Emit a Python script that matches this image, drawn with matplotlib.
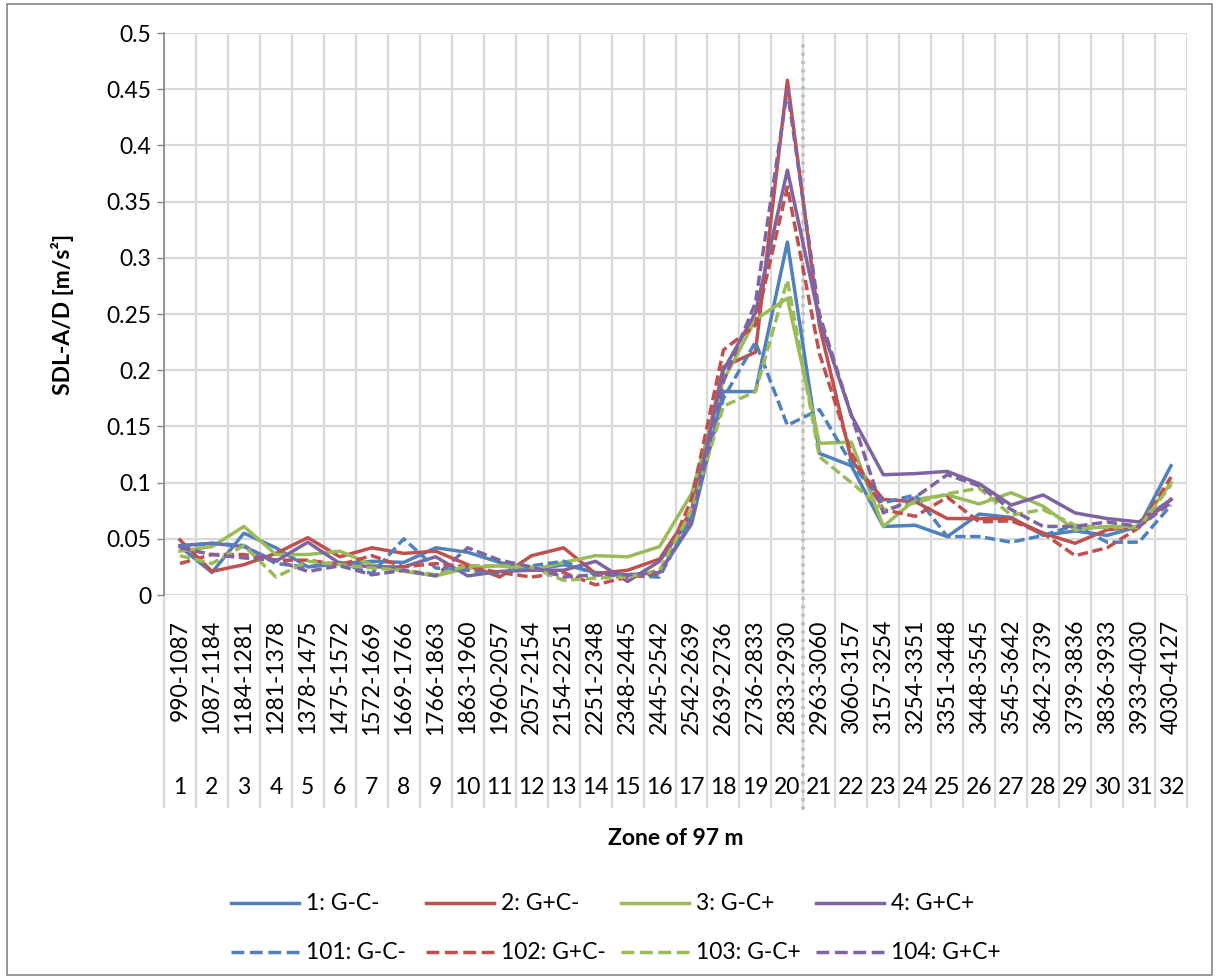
import matplotlib
matplotlib.use("Agg")
import matplotlib.pyplot as plt
from matplotlib.lines import Line2D
from matplotlib.patches import Rectangle

# ---------------- data ----------------
zones = ["990-1087", "1087-1184", "1184-1281", "1281-1378", "1378-1475", "1475-1572",
         "1572-1669", "1669-1766", "1766-1863", "1863-1960", "1960-2057", "2057-2154",
         "2154-2251", "2251-2348", "2348-2445", "2445-2542", "2542-2639", "2639-2736",
         "2736-2833", "2833-2930", "2963-3060", "3060-3157", "3157-3254", "3254-3351",
         "3351-3448", "3448-3545", "3545-3642", "3642-3739", "3739-3836", "3836-3933",
         "3933-4030", "4030-4127"]
zone_numbers = [str(i) for i in range(1, 33)]

s1 = [0.043, 0.020, 0.055, 0.042, 0.025, 0.028, 0.030, 0.029, 0.042, 0.038, 0.029, 0.022,
      0.027, 0.020, 0.018, 0.020, 0.063, 0.181, 0.181, 0.314, 0.126, 0.115, 0.061, 0.062,
      0.052, 0.072, 0.069, 0.053, 0.057, 0.053, 0.061, 0.115]
s2 = [0.049, 0.021, 0.027, 0.037, 0.051, 0.034, 0.042, 0.037, 0.039, 0.027, 0.016, 0.035,
      0.042, 0.019, 0.022, 0.032, 0.075, 0.203, 0.216, 0.458, 0.240, 0.120, 0.085, 0.083,
      0.068, 0.068, 0.068, 0.055, 0.046, 0.058, 0.061, 0.085]
s3 = [0.039, 0.043, 0.061, 0.036, 0.036, 0.039, 0.027, 0.021, 0.017, 0.024, 0.026, 0.022,
      0.029, 0.035, 0.034, 0.043, 0.090, 0.191, 0.245, 0.264, 0.135, 0.136, 0.061, 0.085,
      0.089, 0.081, 0.091, 0.079, 0.058, 0.061, 0.061, 0.100]
s4 = [0.044, 0.046, 0.043, 0.030, 0.047, 0.028, 0.025, 0.025, 0.034, 0.017, 0.021, 0.022,
      0.022, 0.030, 0.012, 0.030, 0.070, 0.200, 0.251, 0.378, 0.245, 0.160, 0.107, 0.108,
      0.110, 0.099, 0.080, 0.089, 0.073, 0.068, 0.065, 0.085]
s101 = [0.043, 0.046, 0.044, 0.028, 0.025, 0.029, 0.019, 0.050, 0.024, 0.022, 0.019, 0.026,
        0.030, 0.018, 0.017, 0.016, 0.070, 0.175, 0.225, 0.151, 0.165, 0.117, 0.082, 0.089,
        0.052, 0.052, 0.047, 0.053, 0.062, 0.047, 0.047, 0.080]
s102 = [0.028, 0.036, 0.036, 0.031, 0.031, 0.027, 0.035, 0.025, 0.028, 0.025, 0.020, 0.016,
        0.020, 0.009, 0.016, 0.019, 0.085, 0.218, 0.240, 0.363, 0.215, 0.126, 0.076, 0.070,
        0.087, 0.065, 0.066, 0.055, 0.035, 0.042, 0.060, 0.105]
s103 = [0.035, 0.028, 0.044, 0.016, 0.030, 0.027, 0.024, 0.022, 0.018, 0.026, 0.026, 0.025,
        0.013, 0.015, 0.016, 0.022, 0.075, 0.168, 0.181, 0.280, 0.123, 0.100, 0.076, 0.082,
        0.090, 0.095, 0.071, 0.076, 0.062, 0.060, 0.060, 0.098]
s104 = [0.042, 0.036, 0.033, 0.031, 0.021, 0.026, 0.018, 0.022, 0.017, 0.042, 0.031, 0.025,
        0.016, 0.018, 0.018, 0.020, 0.065, 0.190, 0.260, 0.449, 0.250, 0.160, 0.073, 0.087,
        0.107, 0.097, 0.076, 0.061, 0.061, 0.065, 0.061, 0.082]

labels = ["1: G-C-", "2: G+C-", "3: G-C+", "4: G+C+",
          "101: G-C-", "102: G+C-", "103: G-C+", "104: G+C+"]
values = [s1, s2, s3, s4, s101, s102, s103, s104]
y_ticks = [0, 0.05, 0.1, 0.15, 0.2, 0.25, 0.3, 0.35, 0.4, 0.45, 0.5]
y_tick_labels = ["0", "0.05", "0.1", "0.15", "0.2", "0.25", "0.3", "0.35", "0.4", "0.45", "0.5"]
divider_position = 20.5

# ---------------- style ----------------
colors = ["#4F81BD", "#C0504D", "#9BBB59", "#8064A2"] * 2
dash = (0, (3.0, 1.3))
styles = ["-"] * 4 + [dash] * 4
FONT = "Lato"
FS = 16.5
GRID = "#D9D9D9"
AXIS = "#868686"
LW = 2.5

plt.rcParams["font.family"] = [FONT, "DejaVu Sans"]

W, H = 1218, 980
fig = plt.figure(figsize=(W / 100, H / 100), dpi=100)
left, right, top, bottom = 164, 1187, 33, 595
ax = fig.add_axes([left / W, (H - bottom) / H, (right - left) / W, (bottom - top) / H])

x = list(range(1, len(zones) + 1))
for vals, c, ls, lab in zip(values, colors, styles, labels):
    ax.plot(x, vals, color=c, lw=LW, linestyle=ls, dash_capstyle="butt",
            solid_joinstyle="round", dash_joinstyle="round", label=lab, zorder=3)

ax.set_xlim(0.5, len(zones) + 0.5)
ax.set_ylim(0, 0.5)
ax.set_yticks(y_ticks)
ax.set_yticklabels(y_tick_labels, fontsize=FS)

# category boundaries as minor ticks (gridlines)
bounds = [i + 0.5 for i in range(0, len(zones) + 1)]
ax.set_xticks(bounds, minor=True)
ax.set_xticks(x)
ax.set_xticklabels(zones, rotation=90, fontsize=FS)
ax.tick_params(axis="x", which="both", length=0, pad=18)
ax.tick_params(axis="y", length=5, width=1, color=AXIS, pad=4, direction="out")

ax.grid(axis="y", color=GRID, lw=1.6, zorder=0)
ax.grid(axis="x", which="minor", color=GRID, lw=1.6, zorder=0)
ax.set_axisbelow(True)

for s in ["top", "right", "bottom"]:
    ax.spines[s].set_visible(False)
ax.spines["left"].set_color(AXIS)
ax.spines["left"].set_linewidth(1.2)
ax.spines["left"].set_zorder(4)

# extend category boundary lines through the label area
ph = bottom - top
ybot = -(808 - bottom) / ph
ax.vlines(bounds, ybot, 0, transform=ax.get_xaxis_transform(), colors=GRID,
          lw=1.6, clip_on=False, zorder=0)

# second level: zone numbers
ynum = -(788 - bottom) / ph
for xi, n in zip(x, zone_numbers):
    ax.text(xi, ynum, n, transform=ax.get_xaxis_transform(), ha="center",
            va="center", fontsize=FS)

# dotted divider
ax.plot([divider_position, divider_position], [ybot, (bottom - 45) / ph],
        transform=ax.get_xaxis_transform(), color="#BFBFBF", lw=3.0,
        linestyle=(0, (0.01, 2.0)), dash_capstyle="round", clip_on=False, zorder=2)

# axis titles
fig.text(62 / W, (H - (top + bottom) / 2) / H, "SDL-A/D [m/s²]", rotation=90,
         ha="center", va="center", fontsize=FS, fontweight="bold")
fig.text(((left + right) / 2) / W, (H - 838) / H, "Zone of 97 m", ha="center",
         va="center", fontsize=FS, fontweight="bold")

# legend (two rows, four columns)
lines = ax.get_lines()[:8]
for k, (ln, lab) in enumerate(zip(lines, labels)):
    row, col = divmod(k, 4)
    yy = 903 if row == 0 else 952
    x0 = 231 + 195 * col
    fig.add_artist(Line2D([x0 / W, (x0 + 68) / W], [(H - yy) / H, (H - yy) / H],
                          transform=fig.transFigure, color=ln.get_color(), lw=LW,
                          linestyle=ln.get_linestyle(), dash_capstyle="butt"))
    fig.text((x0 + 75) / W, (H - yy) / H, lab, ha="left", va="center", fontsize=FS)

# chart border
fig.add_artist(Rectangle((7 / W, (H - 975) / H), (1212 - 7) / W, (975 - 4) / H,
                         transform=fig.transFigure, fill=False, edgecolor=AXIS, lw=1.2))

fig.savefig("out.png", dpi=100, facecolor="white")
